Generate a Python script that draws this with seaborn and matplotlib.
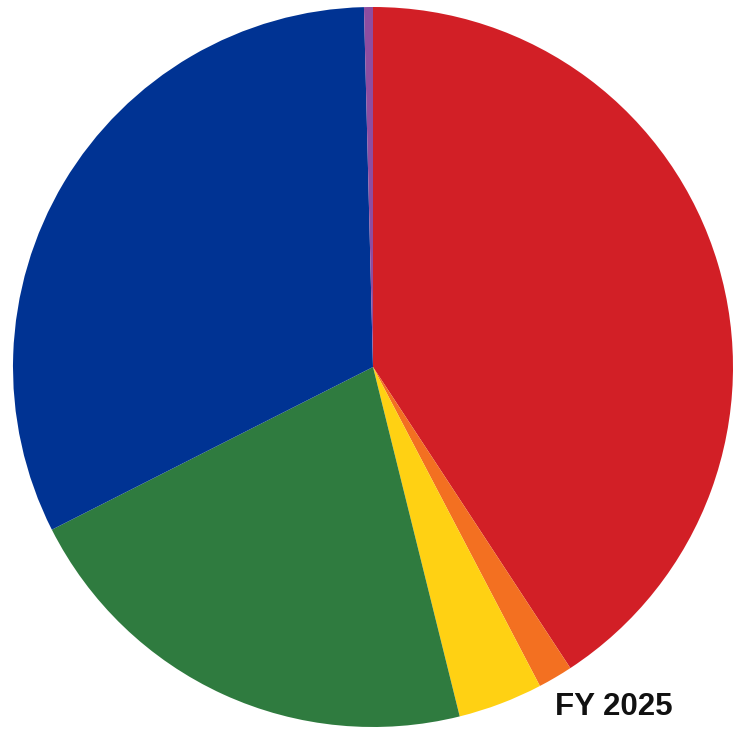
import matplotlib
matplotlib.use("Agg")
import matplotlib.pyplot as plt
import seaborn as sns

categories = ["Red", "Orange", "Yellow", "Green", "Blue", "Purple"]
values = [40.75, 1.56, 3.8, 21.4, 32.05, 0.4]
colors = ["#D21F26", "#F37021", "#FFD113", "#2F7B3F", "#003393", "#8E4DA0"]
title_text = "FY 2025"

sns.set_style("white")
plt.rcParams['font.family'] = ['Liberation Sans', 'DejaVu Sans']

W, H = 742, 730
fig = plt.figure(figsize=(W / 100, H / 100), dpi=100)
cx, cy, r = 373, 367, 360
ax = fig.add_axes([(cx - r) / W, (H - cy - r) / H, 2 * r / W, 2 * r / H])
ax.pie(values, colors=sns.color_palette(colors), startangle=90, counterclock=False,
       radius=1, wedgeprops=dict(linewidth=0))
ax.set_xlim(-1, 1)
ax.set_ylim(-1, 1)
ax.set_aspect("auto")
ax.axis("off")

fig.text(555 / W, (H - 715) / H, title_text, fontsize=22.5, fontweight="bold",
         color="#111111", ha="left", va="baseline")

fig.savefig("out.png", dpi=100)
